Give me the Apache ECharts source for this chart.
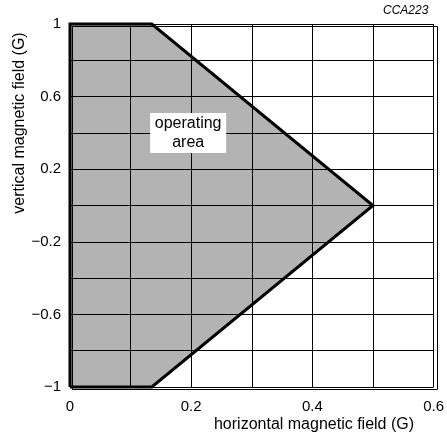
<!DOCTYPE html>
<html>
<head>
<meta charset="utf-8">
<script src="https://cdn.jsdelivr.net/npm/echarts@6/dist/echarts.min.js"></script>
<style>html,body{margin:0;padding:0;background:#fff}#c{width:447px;height:436px}</style>
</head>
<body>
<div id="c"></div>
<script>
// Operating area polygon vertices (horizontal field G, vertical field G)
var areaX = [0, 0.135, 0.5, 0.135, 0];
var areaY = [1, 1, 0, -1, -1];
var xTicks = [0, 0.2, 0.4, 0.6];
var yTicks = [1, 0.6, 0.2, -0.2, -0.6, -1];
var labelPos = [0.195, 0.4];
var labelText = ['operating', 'area'];

var pts = areaX.map(function (x, i) { return [x, areaY[i]]; });
var outline = [[areaX[4], areaY[4]], [areaX[0], areaY[0]], [areaX[1], areaY[1]], [areaX[2], areaY[2]], [areaX[3], areaY[3]], [areaX[4], areaY[4]]];

function fmt(v) {
  var r = Math.round(v * 10) / 10;
  var ok = yTicks.some(function (t) { return Math.abs(t - r) < 1e-6; });
  if (!ok) return '';
  return (r < 0 ? '\u2212' + String(-r) : String(r));
}
function fmtX(v) {
  var r = Math.round(v * 10) / 10;
  var ok = xTicks.some(function (t) { return Math.abs(t - r) < 1e-6; });
  return ok ? String(r) : '';
}

var chart = echarts.init(document.getElementById('c'));
var font = 'Liberation Sans, Arial, Helvetica, sans-serif';
chart.setOption({
  animation: false,
  grid: { left: 70, top: 24, right: 12, bottom: 49 },
  xAxis: {
    type: 'value', min: 0, max: 0.6, interval: 0.1, z: 3,
    axisLine: { show: false }, axisTick: { show: false },
    splitLine: { show: true, lineStyle: { color: '#000', width: 1 } },
    axisLabel: { formatter: fmtX, color: '#000', fontFamily: font, fontSize: 15, margin: 12, showMaxLabel: true }
  },
  yAxis: {
    type: 'value', min: -1, max: 1, interval: 0.2, z: 3,
    axisLine: { show: false }, axisTick: { show: false },
    splitLine: { show: true, lineStyle: { color: '#000', width: 1 } },
    axisLabel: { formatter: fmt, color: '#000', fontFamily: font, fontSize: 15, margin: 9 }
  },
  graphic: [
    { type: 'rect', left: 70, top: 24, shape: { width: 365, height: 363 }, style: { fill: 'none', stroke: '#000', lineWidth: 1 }, z: 4, silent: true },
    { type: 'text', left: 383, top: 5, style: { text: 'CCA223', font: 'italic 12px ' + font, fill: '#000' } },
    { type: 'text', x: 314, y: 425, style: { text: 'horizontal magnetic field (G)', font: '16px ' + font, fill: '#000', align: 'center', verticalAlign: 'middle' } },
    { type: 'text', x: 20, y: 123, rotation: Math.PI / 2, style: { text: 'vertical magnetic field (G)', font: '16px ' + font, fill: '#000', align: 'center', verticalAlign: 'middle' } }
  ],
  series: [
    {
      type: 'custom', z: 1, silent: true,
      data: [0],
      renderItem: function (params, api) {
        var p = pts.map(function (d) { return api.coord(d); });
        return { type: 'polygon', shape: { points: p }, style: { fill: '#b3b3b3' } };
      }
    },
    {
      type: 'line', z: 5, data: outline, symbol: 'none', clip: false, silent: true,
      lineStyle: { color: '#000', width: 3, join: 'miter' }
    },
    {
      type: 'custom', z: 6, silent: true,
      data: [labelPos],
      renderItem: function (params, api) {
        var c = api.coord([api.value(0), api.value(1)]);
        return {
          type: 'group', children: [
            { type: 'rect', shape: { x: c[0] - 38, y: c[1] - 20, width: 76, height: 40 }, style: { fill: '#fff' } },
            { type: 'text', style: { x: c[0], y: c[1] - 9, text: labelText[0], font: '16px ' + font, fill: '#000', align: 'center', verticalAlign: 'middle' } },
            { type: 'text', style: { x: c[0], y: c[1] + 10, text: labelText[1], font: '16px ' + font, fill: '#000', align: 'center', verticalAlign: 'middle' } }
          ]
        };
      }
    }
  ]
});
</script>
</body>
</html>
